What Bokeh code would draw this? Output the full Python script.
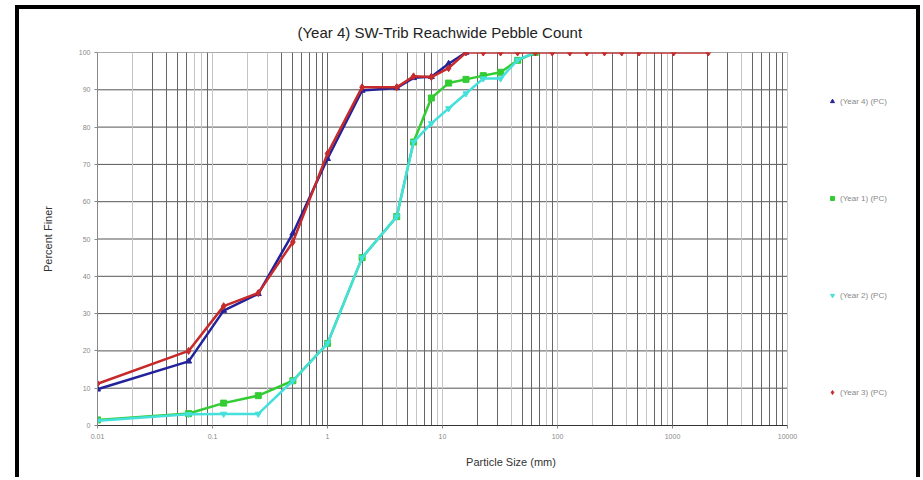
from bokeh.plotting import figure
from bokeh.models import Legend, LegendItem, FixedTicker, Grid, CustomJSTickFormatter, Range1d
from bokeh.embed import file_html
from bokeh.resources import INLINE

title_text = "(Year 4) SW-Trib Reachwide Pebble Count"
x_label = "Particle Size (mm)"
y_label = "Percent Finer"

x_tick_values = [0.01, 0.1, 1, 10, 100, 1000, 10000]
x_tick_labels = ["0.01", "0.1", "1", "10", "100", "1000", "10000"]
y_tick_values = [0, 10, 20, 30, 40, 50, 60, 70, 80, 90, 100]

series_names = ["(Year 4) (PC)", "(Year 1) (PC)", "(Year 2) (PC)", "(Year 3) (PC)"]

sizes_y4 = [0.01, 0.062, 0.125, 0.25, 0.5, 1, 2, 4, 5.6, 8, 11.3, 16]
pct_y4 = [9.7, 17.2, 30.8, 35.3, 51.5, 71.5, 89.8, 90.5, 93.2, 93.5, 97, 100]

sizes_y1 = [0.01, 0.062, 0.125, 0.25, 0.5, 1, 2, 4, 5.6, 8, 11.3, 16, 22.6, 32, 45, 64]
pct_y1 = [1.5, 3.2, 6.0, 8.0, 12, 22, 45, 56, 76, 87.8, 91.8, 92.8, 93.8, 94.7, 97.9, 100]

sizes_y2 = [0.01, 0.062, 0.125, 0.25, 0.5, 1, 2, 4, 5.6, 8, 11.3, 16, 22.6, 32, 45, 64]
pct_y2 = [1.3, 3.0, 3.1, 3.1, 12, 22, 45, 56, 76, 81, 85, 89, 93, 93, 98, 100]

sizes_y3 = [0.01, 0.062, 0.125, 0.25, 0.5, 1, 2, 4, 5.6, 8, 11.3, 16, 22.6, 32, 45, 64,
            90, 128, 180, 256, 362, 512, 1024, 2048]
pct_y3 = [11.2, 20, 32, 35.5, 49.2, 72.9, 90.7, 90.7, 93.6, 93.4, 95.8, 100, 100, 100, 100, 100,
          100, 100, 100, 100, 100, 100, 100, 100]

# grid line styling positions
grid_dark = [0.03, 0.04, 0.05, 0.06, 0.09, 0.4, 0.5, 0.6, 0.7, 0.8, 0.9, 1,
             2, 3, 5, 7, 8, 20, 30, 50, 60, 70, 90, 300, 500, 700, 800, 1000,
             2000, 3000, 5000, 6000, 7000, 8000, 9000]
grid_light = [0.02, 0.07, 0.08, 0.1, 0.2, 0.3, 4, 6, 9, 10, 40, 80, 100, 200, 400,
              600, 900, 4000, 10000]

x_min, x_max_axis = 0.01, 10000
x_view_max = 155350  # frame extends right to hold the legend

p = figure(width=905, height=472, x_axis_type="log",
           x_range=Range1d(x_min, x_view_max), y_range=Range1d(0, 100),
           output_backend="svg", toolbar_location=None,
           min_border_left=78, min_border_right=0, min_border_top=43, min_border_bottom=56,
           background_fill_color="white", border_fill_color="white",
           styles={"border": "4px solid black", "border-bottom": "0px",
                   "margin-left": "15px", "margin-top": "5px"})

p.title.text = title_text
p.title.align = "left"
p.title.offset = 200
p.title.standoff = 24
p.title.text_font = "Liberation Sans"
p.title.text_font_size = "15px"
p.title.text_font_style = "normal"
p.title.text_color = "#222222"

p.outline_line_color = None

# grids
p.xgrid.ticker = FixedTicker(ticks=grid_dark)
p.xgrid.grid_line_color = "#666666"
p.xgrid.grid_line_width = 1
light_grid = Grid(dimension=0, ticker=FixedTicker(ticks=grid_light),
                  grid_line_color="#c4c4c4", grid_line_width=1, level="underlay")
p.add_layout(light_grid)
p.ygrid.grid_line_color = None
n_y = len(y_tick_values)
p.segment(x0=[x_min] * n_y, y0=y_tick_values, x1=[x_max_axis] * n_y, y1=y_tick_values,
          line_color="#555555", line_width=1, level="underlay")

# axes
p.xaxis.ticker = FixedTicker(ticks=x_tick_values)
p.xaxis.bounds = (x_min, x_max_axis)
p.xaxis.formatter = CustomJSTickFormatter(args=dict(vals=x_tick_values, labs=x_tick_labels), code="""
let best = 0; let d = 1e9;
for (let i = 0; i < vals.length; i++) {
  const dd = Math.abs(Math.log10(vals[i]) - Math.log10(tick));
  if (dd < d) { d = dd; best = i; }
}
return labs[best];
""")
p.yaxis.ticker = FixedTicker(ticks=y_tick_values)
for ax in (p.xaxis, p.yaxis):
    ax.minor_tick_line_color = None
    ax.major_tick_in = 0
    ax.major_tick_out = 3
    ax.major_tick_line_color = "#888888"
    ax.axis_line_color = "#888888"
    ax.major_label_text_font = "Liberation Sans"
    ax.major_label_text_font_size = "7px"
    ax.major_label_text_color = "#888888"
    ax.axis_label_text_font = "Liberation Sans"
    ax.axis_label_text_font_size = "11px"
    ax.axis_label_text_font_style = "normal"
    ax.axis_label_text_color = "#333333"
p.xaxis.axis_label = x_label
p.yaxis.axis_label = y_label
p.xaxis.axis_line_color = "#333333"
p.xaxis.major_label_standoff = 5
p.xaxis.axis_label_standoff = 14
p.yaxis.major_label_standoff = 4
p.yaxis.axis_label_standoff = 22

c_y4, c_y1, c_y2, c_y3 = "#22229a", "#33cc33", "#44e0dc", "#c62a2a"

l1 = p.line(sizes_y1, pct_y1, line_color=c_y1, line_width=2.5)
s1 = p.scatter(sizes_y1, pct_y1, marker="square", size=6, color=c_y1)
l2 = p.line(sizes_y2, pct_y2, line_color=c_y2, line_width=2.5)
s2 = p.scatter(sizes_y2, pct_y2, marker="inverted_triangle", size=6, color=c_y2)
l4 = p.line(sizes_y4, pct_y4, line_color=c_y4, line_width=2.5)
s4 = p.scatter(sizes_y4, pct_y4, marker="triangle", size=6, color=c_y4)
l3 = p.line(sizes_y3, pct_y3, line_color=c_y3, line_width=2.5)
s3 = p.scatter(sizes_y3, pct_y3, marker="diamond", size=7, color=c_y3)

legend = Legend(items=[LegendItem(label=series_names[0], renderers=[s4]),
                       LegendItem(label=series_names[1], renderers=[s1]),
                       LegendItem(label=series_names[2], renderers=[s2]),
                       LegendItem(label=series_names[3], renderers=[s3])],
                location=(730, 28), margin=0, padding=0, spacing=87,
                glyph_width=10, glyph_height=10, label_height=10, label_standoff=3,
                label_text_font="Liberation Sans", label_text_font_size="8px",
                label_text_color="#888888", border_line_color=None,
                background_fill_alpha=0)
p.add_layout(legend, "center")

open("out.html", "w").write(file_html(p, INLINE))
